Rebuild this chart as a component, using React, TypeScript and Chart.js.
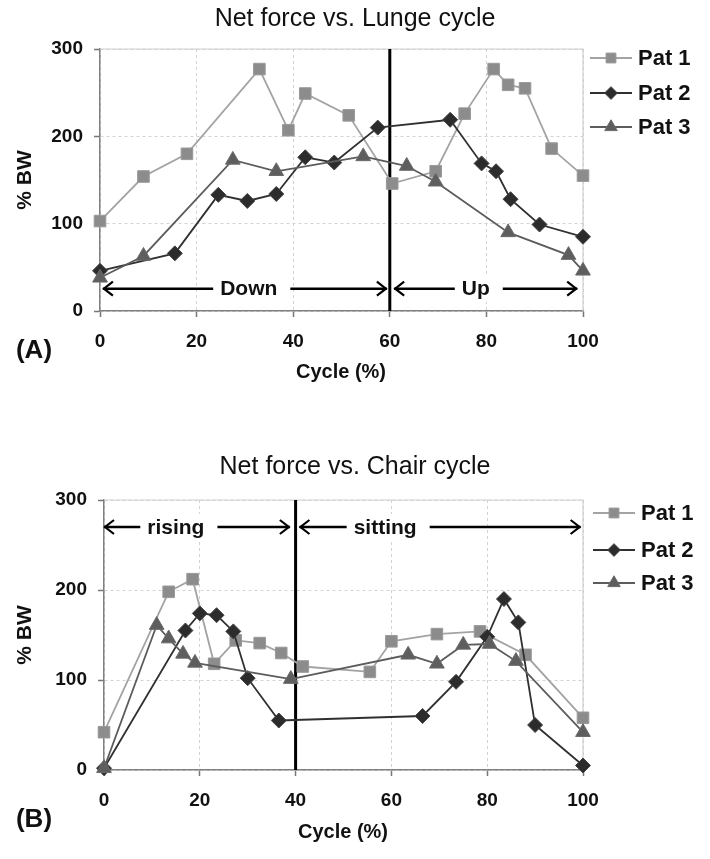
import React, { useEffect, useRef } from 'react';
import { Chart, registerables } from 'chart.js';

Chart.register(...registerables);

const FONT = '"Liberation Sans", Arial, Helvetica, sans-serif';

// ---------- Data: (A) Lunge cycle ----------
const seriesLabels = ['Pat 1', 'Pat 2', 'Pat 3'];
const yTicks = [0, 100, 200, 300];
const xTicks = [0, 20, 40, 60, 80, 100];

const lungePat1X = [0, 9, 18, 33, 39, 42.5, 51.5, 60.5, 69.5, 75.5, 81.5, 84.5, 88, 93.5, 100];
const lungePat1Y = [103, 154, 180, 277, 207, 249, 224, 146, 160, 226, 277, 259, 255, 186, 155];
const lungePat2X = [0, 15.5, 24.5, 30.5, 36.5, 42.5, 48.5, 57.5, 72.5, 79, 82, 85, 91, 100];
const lungePat2Y = [46, 66, 133, 126, 134, 176, 170, 210, 219, 169, 160, 128, 99, 85];
const lungePat3X = [0, 9, 27.5, 36.5, 54.5, 63.5, 69.5, 84.5, 97, 100];
const lungePat3Y = [38, 63, 173, 160, 177, 166, 148, 90, 64, 46];

// ---------- Data: (B) Chair cycle ----------
const chairPat1X = [0, 13.5, 18.5, 23, 27.5, 32.5, 37, 41.5, 55.5, 60, 69.5, 78.5, 88, 100];
const chairPat1Y = [42, 198, 212, 118, 144, 141, 130, 115, 109, 143, 151, 154, 128, 58];
const chairPat2X = [0, 17, 20, 23.5, 27, 30, 36.5, 66.5, 73.5, 80, 83.5, 86.5, 90, 100];
const chairPat2Y = [2, 155, 174, 172, 154, 102, 55, 60, 98, 148, 190, 164, 50, 5];
const chairPat3X = [0, 11, 13.5, 16.5, 19, 39, 63.5, 69.5, 75, 80.5, 86, 100];
const chairPat3Y = [2, 161, 146, 129, 119, 101, 128, 118, 139, 140, 121, 42];

// phase annotations
const lungeDivider = 60;
const lungePhases = [
  { label: 'Down', from: 0.6, to: 59.4, center: 30.8, y: 25.6 },
  { label: 'Up', from: 60.9, to: 98.8, center: 77.8, y: 25.6 },
];
const chairDivider = 40;
const chairPhases = [
  { label: 'rising', from: 0, to: 38.8, center: 15, y: 270 },
  { label: 'sitting', from: 40.8, to: 99.5, center: 58.7, y: 270 },
];

const styles = [
  { line: '#a3a3a3', fill: '#8c8c8c', border: '#9a9a9a', shape: 'rect', radius: 8.2 },
  { line: '#303030', fill: '#2c2c2c', border: '#444444', shape: 'rectRot', radius: 7.5 },
  { line: '#5c5c5c', fill: '#5e5e5e', border: '#6a6a6a', shape: 'triangle', radius: 8.5 },
];

function pts(xs: number[], ys: number[]) {
  return xs.map((x, i) => ({ x, y: ys[i] }));
}

function drawShape(ctx: CanvasRenderingContext2D, shape: string, x: number, y: number, r: number) {
  ctx.beginPath();
  if (shape === 'rect') {
    const s = Math.SQRT1_2 * r;
    ctx.rect(x - s, y - s, 2 * s, 2 * s);
  } else if (shape === 'rectRot') {
    ctx.moveTo(x - r, y);
    ctx.lineTo(x, y - r);
    ctx.lineTo(x + r, y);
    ctx.lineTo(x, y + r);
    ctx.closePath();
  } else {
    let rad = 0;
    ctx.moveTo(x + Math.sin(rad) * r, y - Math.cos(rad) * r);
    rad += (2 * Math.PI) / 3;
    ctx.lineTo(x + Math.sin(rad) * r, y - Math.cos(rad) * r);
    rad += (2 * Math.PI) / 3;
    ctx.lineTo(x + Math.sin(rad) * r, y - Math.cos(rad) * r);
    ctx.closePath();
  }
}

type PanelCfg = {
  width: number;
  height: number;
  title: string;
  titleY: number;
  panelLabel: string;
  panelLabelPos: [number, number];
  yLabelPos: [number, number];
  xLabelPos: [number, number];
  padTop: number;
  yAxisWidth: number;
  xAxisHeight: number;
  divider: number;
  phases: { label: string; from: number; to: number; center: number; y: number }[];
  legendX: number;
  legendRows: number[];
  series: { x: number; y: number }[][];
};

function buildChart(canvas: HTMLCanvasElement, cfg: PanelCfg) {
  const plugin = {
    id: 'panelDeco',
    beforeDatasetsDraw(chart: any) {
      const { ctx, chartArea: a, scales } = chart;
      ctx.save();
      // light frame (top/right)
      ctx.strokeStyle = '#cfcfcf';
      ctx.lineWidth = 1.2;
      ctx.beginPath();
      ctx.moveTo(a.left, a.top);
      ctx.lineTo(a.right, a.top);
      ctx.lineTo(a.right, a.bottom);
      ctx.stroke();
      // divider
      const dx = scales.x.getPixelForValue(cfg.divider);
      ctx.strokeStyle = '#000';
      ctx.lineWidth = 3;
      ctx.beginPath();
      ctx.moveTo(dx, a.top);
      ctx.lineTo(dx, a.bottom);
      ctx.stroke();
      // phase arrows
      ctx.font = `bold 21px ${FONT}`;
      ctx.textAlign = 'center';
      ctx.textBaseline = 'middle';
      for (const p of cfg.phases) {
        const x1 = scales.x.getPixelForValue(p.from);
        const x2 = scales.x.getPixelForValue(p.to);
        const cx = scales.x.getPixelForValue(p.center);
        const y = scales.y.getPixelForValue(p.y);
        const w = ctx.measureText(p.label).width;
        const gL = cx - w / 2 - 7;
        const gR = cx + w / 2 + 13;
        ctx.fillStyle = '#fff';
        ctx.fillRect(gL, y - 13, gR - gL, 26);
        ctx.strokeStyle = '#000';
        ctx.lineWidth = 2.5;
        ctx.beginPath();
        ctx.moveTo(x1, y);
        ctx.lineTo(gL, y);
        ctx.moveTo(gR, y);
        ctx.lineTo(x2, y);
        ctx.stroke();
        ctx.lineWidth = 2.2;
        ctx.beginPath();
        ctx.moveTo(x1 + 10, y - 7);
        ctx.lineTo(x1 + 1, y);
        ctx.lineTo(x1 + 10, y + 7);
        ctx.moveTo(x2 - 10, y - 7);
        ctx.lineTo(x2 - 1, y);
        ctx.lineTo(x2 - 10, y + 7);
        ctx.stroke();
        ctx.fillStyle = '#111';
        ctx.fillText(p.label, cx, y + 1);
      }
      ctx.restore();
    },
    afterDraw(chart: any) {
      const { ctx } = chart;
      ctx.save();
      ctx.fillStyle = '#111';
      ctx.textAlign = 'center';
      ctx.textBaseline = 'middle';
      // title
      ctx.font = `25px ${FONT}`;
      ctx.fillText(cfg.title, 355, cfg.titleY);
      // x label
      ctx.font = `bold 20px ${FONT}`;
      ctx.fillText('Cycle (%)', cfg.xLabelPos[0], cfg.xLabelPos[1]);
      // panel label
      ctx.font = `bold 26px ${FONT}`;
      ctx.fillText(cfg.panelLabel, cfg.panelLabelPos[0], cfg.panelLabelPos[1]);
      // y label
      ctx.save();
      ctx.translate(cfg.yLabelPos[0], cfg.yLabelPos[1]);
      ctx.rotate(-Math.PI / 2);
      ctx.font = `bold 21px ${FONT}`;
      ctx.fillText('% BW', 0, 0);
      ctx.restore();
      // legend
      ctx.font = `bold 22px ${FONT}`;
      ctx.textAlign = 'left';
      seriesLabels.forEach((lab, i) => {
        const st = styles[i];
        const y = cfg.legendRows[i];
        const lx = cfg.legendX;
        ctx.strokeStyle = st.line;
        ctx.lineWidth = 2;
        ctx.beginPath();
        ctx.moveTo(lx, y);
        ctx.lineTo(lx + 42, y);
        ctx.stroke();
        ctx.fillStyle = st.fill;
        ctx.strokeStyle = st.border;
        ctx.lineWidth = 1;
        drawShape(ctx, st.shape, lx + 21, y, st.radius * 0.85);
        ctx.fill();
        ctx.stroke();
        ctx.fillStyle = '#111';
        ctx.fillText(lab, lx + 48, y + 1);
      });
      ctx.restore();
    },
  };

  const tickFont = { family: FONT, size: 19, weight: 'bold' as const };

  return new Chart(canvas, {
    type: 'line',
    data: {
      datasets: cfg.series.map((d, i) => ({
        label: seriesLabels[i],
        data: d,
        borderColor: styles[i].line,
        backgroundColor: styles[i].fill,
        pointBackgroundColor: styles[i].fill,
        pointBorderColor: styles[i].border,
        pointBorderWidth: 1,
        pointStyle: styles[i].shape as any,
        pointRadius: styles[i].radius,
        borderWidth: 1.8,
        tension: 0,
        fill: false,
        clip: false as any,
        order: 3 - i,
      })),
    },
    options: {
      responsive: false,
      animation: false,
      devicePixelRatio: 1,
      layout: { padding: { top: cfg.padTop, left: 0, right: 710 - 583, bottom: 0 } },
      plugins: { legend: { display: false }, title: { display: false }, tooltip: { enabled: false } },
      scales: {
        x: {
          type: 'linear',
          min: 0,
          max: 100,
          afterBuildTicks: (s: any) => { s.ticks = xTicks.map((v) => ({ value: v })); },
          afterFit: (s: any) => { s.height = cfg.xAxisHeight; },
          ticks: { color: '#111', font: tickFont, padding: 13, maxRotation: 0, autoSkip: false },
          grid: { color: '#d2d2d2', lineWidth: 1, tickColor: '#777', tickLength: 6, tickWidth: 1.5 },
          border: { color: '#808080', width: 1.5, dash: [3, 3] },
        },
        y: {
          type: 'linear',
          min: 0,
          max: 300,
          afterBuildTicks: (s: any) => { s.ticks = yTicks.map((v) => ({ value: v })); },
          afterFit: (s: any) => { s.width = cfg.yAxisWidth; },
          ticks: { color: '#111', font: tickFont, padding: 11 },
          grid: { color: '#d2d2d2', lineWidth: 1, tickColor: '#777', tickLength: 6, tickWidth: 1.5 },
          border: { color: '#808080', width: 1.5, dash: [3, 3] },
        },
      },
    },
    plugins: [plugin as any],
  });
}

const panelA: PanelCfg = {
  width: 710,
  height: 430,
  title: 'Net force vs. Lunge cycle',
  titleY: 19,
  panelLabel: '(A)',
  panelLabelPos: [34, 351],
  yLabelPos: [25, 180],
  xLabelPos: [341, 372],
  padTop: 49,
  yAxisWidth: 100,
  xAxisHeight: 430 - 311,
  divider: lungeDivider,
  phases: lungePhases,
  legendX: 590,
  legendRows: [58, 93, 127],
  series: [pts(lungePat1X, lungePat1Y), pts(lungePat2X, lungePat2Y), pts(lungePat3X, lungePat3Y)],
};

const panelB: PanelCfg = {
  width: 710,
  height: 429,
  title: 'Net force vs. Chair cycle',
  titleY: 37,
  panelLabel: '(B)',
  panelLabelPos: [34, 390],
  yLabelPos: [25, 205],
  xLabelPos: [343, 402],
  padTop: 70,
  yAxisWidth: 104,
  xAxisHeight: 429 - 340,
  divider: chairDivider,
  phases: chairPhases,
  legendX: 593,
  legendRows: [83, 120, 153],
  series: [pts(chairPat1X, chairPat1Y), pts(chairPat2X, chairPat2Y), pts(chairPat3X, chairPat3Y)],
};

function Panel({ cfg }: { cfg: PanelCfg }) {
  const ref = useRef<HTMLCanvasElement>(null);
  useEffect(() => {
    if (!ref.current) return;
    const chart = buildChart(ref.current, cfg);
    return () => chart.destroy();
  }, [cfg]);
  return (
    <canvas
      ref={ref}
      width={cfg.width}
      height={cfg.height}
      style={{ display: 'block', width: cfg.width, height: cfg.height }}
    />
  );
}

export default function App() {
  return (
    <div style={{ position: 'absolute', left: 0, top: 0, width: 710, height: 859, background: '#fff' }}>
      <Panel cfg={panelA} />
      <Panel cfg={panelB} />
    </div>
  );
}
